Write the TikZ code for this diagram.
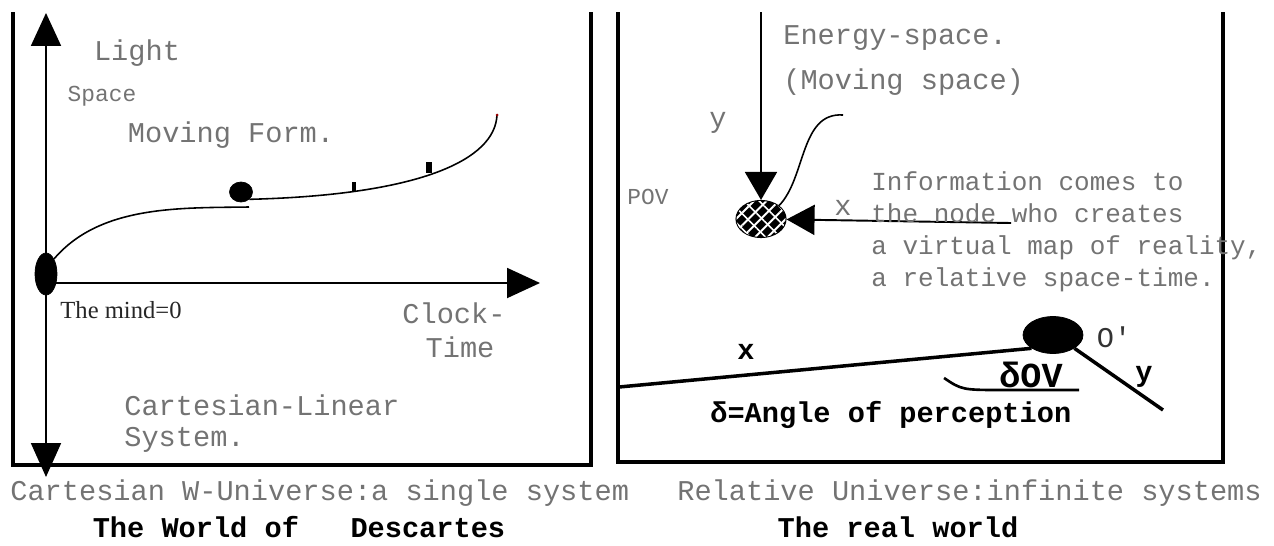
\documentclass[tikz,border=0pt]{standalone}
\usepackage{fontspec}
\setmainfont{Liberation Serif}
\setmonofont{Liberation Mono}
\usepackage{tikz}
\usetikzlibrary{shapes.geometric}
\usetikzlibrary{arrows.meta}
\usetikzlibrary{positioning,patterns.meta}

\begin{document}
\begin{tikzpicture}[
  x=0.02cm, y=-0.02cm,
  every node/.style={inner sep=0pt, font=\ttfamily\fontsize{16.3}{19}\selectfont, text=black!55},
  small/.style={font=\ttfamily\fontsize{13}{15}\selectfont},
  info/.style={font=\ttfamily\fontsize{14.8}{18.2}\selectfont, align=left, anchor=base west},
  bold/.style={font=\ttfamily\bfseries\fontsize{16.3}{19}\selectfont, text=black},
  serif/.style={font=\rmfamily\fontsize{14}{16}\selectfont, text=black!85},
  frame/.style={line width=2.3pt},
  axis/.style={line width=1.1pt},
  curve/.style={line width=0.9pt},
  blob/.style={ellipse, fill=black, draw=black},
  bigtip/.style={-{Triangle[length=0.66cm,width=0.6cm]}}
]
\useasboundingbox (0,0) rectangle (1274,545);

\draw[frame] (13,12) -- (13,465) -- (591,465) -- (591,12);
\draw[frame] (618,12) -- (618,462) -- (1223,462) -- (1223,12);

\coordinate (ytip) at (46,13);
\coordinate (ybot) at (46,477);
\coordinate (origin) at (46,283);
\coordinate (xtip) at (540,283);
\draw[axis, {Triangle[length=0.68cm,width=0.6cm]}-{Triangle[length=0.66cm,width=0.6cm]}] (ybot) -- (ytip);
\draw[axis, bigtip] (origin) -- (xtip);
\node[blob, minimum width=0.44cm, minimum height=0.84cm] (mind0) at (46,274) {};
\node[blob, minimum width=0.46cm, minimum height=0.4cm] (form) at (241,192) {};
\coordinate (formleft) at (249,207);
\coordinate (formend) at (497,115);
\draw[curve] (mind0.north east) .. controls (100,205) and (180,208) .. (formleft);
\draw[curve] (form.south east) .. controls (420,195) and (495,160) .. (formend);
\fill (352,182) rectangle (356,191);
\fill (426,162) rectangle (432,173);
\fill[red!60!black] (497,115) circle (1.5);

\node (light) at (137,53) {Light};
\node[small] (space) at (102,96) {Space};
\node (moving) at (231,135) {Moving Form.};
\node[serif] (mind) at (121,310) {The mind=0};
\node (clock) at (454,313) {Clock-};
\node (time) at (460,347) {Time};
\node[anchor=west] (cartesian) at (124,405) {Cartesian-Linear};
\node[anchor=west] (system) at (124,440) {System.};
\node[anchor=west] (single) at (10,493) {Cartesian W-Universe:a single system};
\node[bold, anchor=base] (descartes) at (299,537) {The World of\ \ \ Descartes};

\node[ellipse, draw, line width=1.2pt, fill=black,
  postaction={pattern={Lines[angle=45,distance=5pt,line width=1.1pt]}, pattern color=white},
  postaction={pattern={Lines[angle=-45,distance=6pt,line width=0.9pt]}, pattern color=white},
  minimum width=0.98cm, minimum height=0.72cm] (povnode) at (761,219) {};
\coordinate (ytop) at (761,12);
\coordinate (xstart) at (1011,223);
\coordinate (wave) at (843,115);
\draw[axis, -{Triangle[length=0.56cm,width=0.64cm]}] (ytop) -- (povnode);
\draw[axis, -{Triangle[length=0.56cm,width=0.6cm]}] (xstart) -- (povnode);
\draw[curve] (wave) .. controls (800,112) and (806,178) .. (povnode.north east);
\node[anchor=west] (energy) at (783,38) {Energy-space.};
\node[anchor=west] (movingspace) at (783,82) {(Moving space)};
\node (ylab) at (718,123) {y};
\node (xlab) at (843,208) {x};
\node[small] (pov) at (648,197) {POV};
\node[info] (infotext) at (871,286) {Information comes to\\the node who creates\\a virtual map of reality,\\a relative space-time.};

\node[blob, minimum width=1.2cm, minimum height=0.74cm] (oprime) at (1053,335) {};
\coordinate (xfar) at (619,387);
\coordinate (yfar) at (1163,410);
\coordinate (arcstart) at (944,378);
\coordinate (arcend) at (1079,390);
\draw[line width=2pt] (xfar) -- (oprime.south west);
\draw[line width=2pt] (oprime.south east) -- (yfar);
\draw[line width=1.5pt] (arcstart) .. controls (962,390) .. (1005,390) -- (arcend);
\node[text=black!80] (olab) at (1114,337) {O'};
\node[bold] (xbold) at (746,352) {x};
\node[bold] (ybold) at (1144,377) {y};
\node[bold, font=\ttfamily\bfseries\fontsize{20}{22}\selectfont] (sov) at (1031,375) {δOV};
\node[bold, anchor=west] (angle) at (710,415) {δ=Angle of perception};
\node[anchor=west] (relative) at (677,493) {Relative Universe:infinite systems};
\node[bold, anchor=base] (realworld) at (898,537) {The real world};
\end{tikzpicture}
\end{document}
